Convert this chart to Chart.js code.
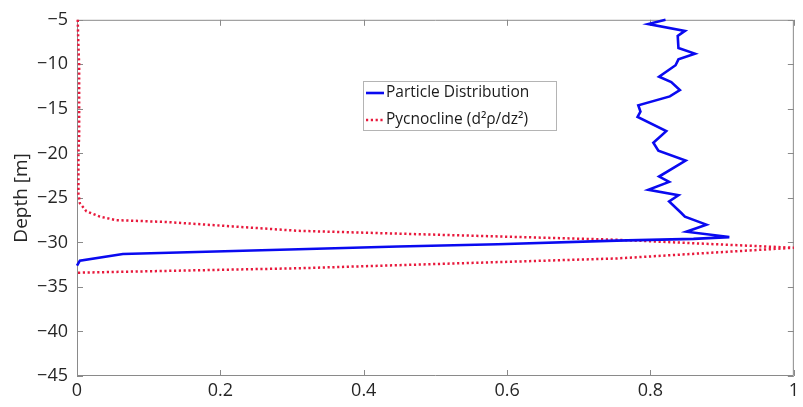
<!DOCTYPE html>
<html>
<head>
<meta charset="utf-8">
<script src="https://cdn.jsdelivr.net/npm/chart.js@4.4.0/dist/chart.umd.min.js"></script>
<style>
    html, body { margin: 0; padding: 0; background: #fff; }
</style>
</head>
<body>
<canvas id="GraficoPerfil" width="803" height="407"></canvas>
<script>
var profParticulas = [-5, -5.47, -6.25, -6.8, -8.16, -8.8, -9.44, -10.1, -11.4, -12.0, -12.9, -13.6, -14.6, -15.3, -15.9, -17.5, -18.8, -19.7, -20.8, -22.6, -23.2, -24.1, -24.7, -25.4, -26.7, -27.1, -28.0, -28.8, -29.4, -29.6, -29.8, -30.2, -30.45, -30.77, -31.3, -32.05, -32.6];
var valParticulas = [0.821, 0.797, 0.848, 0.838, 0.839, 0.862, 0.839, 0.835, 0.812, 0.829, 0.841, 0.827, 0.783, 0.786, 0.782, 0.822, 0.804, 0.811, 0.849, 0.812, 0.826, 0.797, 0.839, 0.826, 0.843, 0.848, 0.878, 0.850, 0.910, 0.86, 0.753, 0.587, 0.448, 0.309, 0.064, 0.004, 0];

var profPicnoclina = [-5, -8, -10, -13, -15, -18, -20, -22, -24.5, -25.6, -26.5, -27.1, -27.5, -27.7, -28.2, -28.7, -29.7, -30.6, -31.8, -32.9, -33.4];
var valPicnoclina = [0.001, 0.002, 0.003, 0.003, 0.003, 0.003, 0.002, 0.002, 0.002, 0.004, 0.013, 0.032, 0.055, 0.124, 0.217, 0.309, 0.753, 1.0, 0.753, 0.309, 0];

var ticksX = [0, 0.2, 0.4, 0.6, 0.8, 1];
var ticksY = [-45, -40, -35, -30, -25, -20, -15, -10, -5];

var nomes = ["Particle Distribution", "Pycnocline (d\u00B2\u03C1/dz\u00B2)"];

function MontarPontos(valores, profs) {
    var pontos = [];
    for (var i = 0; i < valores.length; i++) {
        pontos.push({ x: valores[i], y: profs[i] });
    }
    return pontos;
}

function Rotulo(v) {
    return String(v).replace('-', '\u2212');
}

/*Moldura com ticks para dentro (estilo matlab)*/
var moldura = {
    id: 'moldura',
    beforeDatasetsDraw: function (chart) {
        var ctx = chart.ctx;
        var a = chart.chartArea;
        var sx = chart.scales.x, sy = chart.scales.y;
        ctx.save();
        ctx.strokeStyle = '#8a8a8a';
        ctx.lineWidth = 1;
        ctx.beginPath();
        ctx.rect(a.left + 0.5, a.top + 0.5, a.right - a.left - 1, a.bottom - a.top - 1);
        sx.ticks.forEach(function (t) {
            var px = Math.round(sx.getPixelForValue(t.value)) + 0.5;
            ctx.moveTo(px, a.bottom); ctx.lineTo(px, a.bottom - 6);
            ctx.moveTo(px, a.top); ctx.lineTo(px, a.top + 6);
        });
        sy.ticks.forEach(function (t) {
            var py = Math.round(sy.getPixelForValue(t.value)) + 0.5;
            ctx.moveTo(a.left, py); ctx.lineTo(a.left + 6, py);
            ctx.moveTo(a.right, py); ctx.lineTo(a.right - 6, py);
        });
        ctx.stroke();
        ctx.restore();
    }
};

/*Legenda dentro do grafico*/
var legenda = {
    id: 'legenda',
    afterDraw: function (chart) {
        var ctx = chart.ctx;
        var x0 = 363, y0 = 81, w = 193, h = 49;
        ctx.save();
        ctx.fillStyle = '#fff';
        ctx.fillRect(x0, y0, w, h);
        ctx.strokeStyle = '#b4b4b4';
        ctx.lineWidth = 1;
        ctx.strokeRect(x0 + 0.5, y0 + 0.5, w, h);
        ctx.font = '15.5px "Open Sans"';
        ctx.textBaseline = 'middle';
        ctx.fillStyle = '#1a1a1a';
        chart.data.datasets.forEach(function (ds, i) {
            var yy = y0 + 12 + i * 27;
            ctx.strokeStyle = ds.borderColor;
            ctx.lineWidth = ds.borderWidth;
            ctx.setLineDash(ds.borderDash || []);
            ctx.beginPath();
            ctx.moveTo(x0 + 3, yy);
            ctx.lineTo(x0 + 21, yy);
            ctx.stroke();
            ctx.setLineDash([]);
            ctx.fillText(ds.label, x0 + 23, yy);
        });
        ctx.restore();
    }
};

var ctx = document.getElementById('GraficoPerfil').getContext('2d');

var grafico = new Chart(ctx, {
    type: 'scatter',
    data: {
        datasets: [{
            label: nomes[0],
            data: MontarPontos(valParticulas, profParticulas),
            showLine: true,
            borderColor: '#0a0af0',
            borderWidth: 2.6,
            pointRadius: 0,
            tension: 0,
            clip: 3
        }, {
            label: nomes[1],
            data: MontarPontos(valPicnoclina, profPicnoclina),
            showLine: true,
            borderColor: '#e8193c',
            borderWidth: 2.5,
            borderDash: [2.2, 2.6],
            pointRadius: 0,
            tension: 0,
            clip: 3
        }]
    },
    options: {
        responsive: false,
        animation: false,
        layout: { padding: { top: 13, right: 5, left: 0, bottom: 0 } },
        plugins: {
            legend: { display: false },
            tooltip: { enabled: false }
        },
        scales: {
            x: {
                type: 'linear',
                min: 0,
                max: 1,
                afterBuildTicks: function (axis) {
                    axis.ticks = ticksX.map(function (v) { return { value: v }; });
                },
                afterFit: function (axis) { axis.height = 31; },
                grid: { display: false, drawTicks: false },
                border: { display: false },
                ticks: {
                    padding: 4,
                    color: '#262626',
                    font: { family: 'Open Sans', size: 18 },
                    maxRotation: 0,
                    callback: function (v) { return Rotulo(v); }
                }
            },
            y: {
                type: 'linear',
                min: -45,
                max: -5,
                afterBuildTicks: function (axis) {
                    axis.ticks = ticksY.map(function (v) { return { value: v }; });
                },
                afterFit: function (axis) { axis.width = 77; },
                grid: { display: false, drawTicks: false },
                border: { display: false },
                title: {
                    display: true,
                    text: 'Depth [m]',
                    color: '#262626',
                    font: { family: 'Open Sans', size: 19 },
                    padding: { top: 10, bottom: 0 }
                },
                ticks: {
                    padding: 9,
                    color: '#262626',
                    font: { family: 'Open Sans', size: 18 },
                    callback: function (v) { return Rotulo(v); }
                }
            }
        }
    },
    plugins: [moldura, legenda]
});
</script>
</body>
</html>
